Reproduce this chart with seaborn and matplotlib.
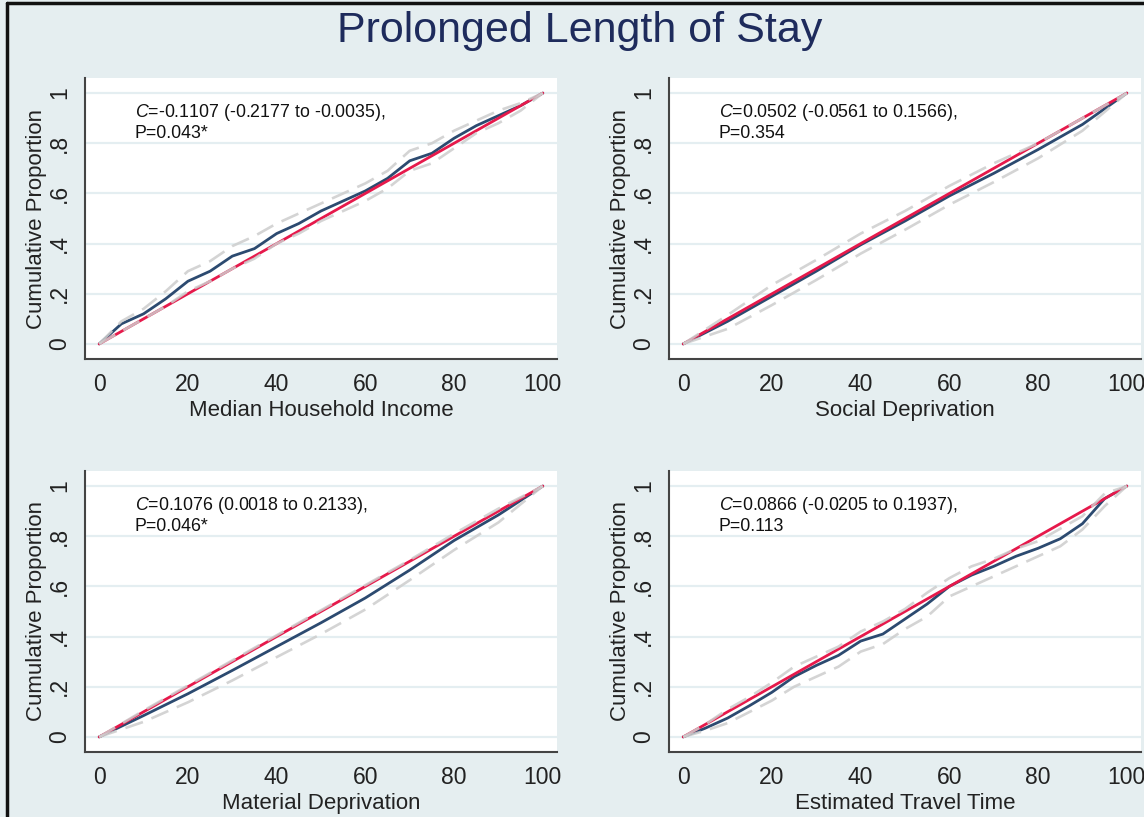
import pandas as pd
import matplotlib.pyplot as plt
import seaborn as sns
from matplotlib.lines import Line2D

# data
x5 = [0, 5, 10, 15, 20, 25, 30, 35, 40, 45, 50, 55, 60, 65, 70, 75, 80, 85, 90, 95, 100]
x10 = [0, 10, 20, 30, 40, 50, 60, 70, 80, 90, 100]

income_curve = [0, 0.08, 0.12, 0.18, 0.25, 0.29, 0.35, 0.38, 0.44, 0.48, 0.53, 0.57, 0.61, 0.66, 0.73, 0.76, 0.82, 0.87, 0.91, 0.95, 1]
income_upper = [0, 0.09, 0.14, 0.21, 0.29, 0.33, 0.39, 0.43, 0.48, 0.52, 0.56, 0.60, 0.64, 0.69, 0.77, 0.80, 0.85, 0.89, 0.93, 0.96, 1]
income_lower = [0, 0.05, 0.10, 0.15, 0.21, 0.25, 0.30, 0.34, 0.40, 0.44, 0.49, 0.53, 0.57, 0.62, 0.69, 0.72, 0.78, 0.84, 0.88, 0.93, 1]

social_curve = [0, 0.09, 0.19, 0.29, 0.395, 0.49, 0.59, 0.68, 0.775, 0.875, 1]
social_upper = [0, 0.115, 0.235, 0.335, 0.44, 0.53, 0.63, 0.72, 0.80, 0.90, 1]
social_lower = [0, 0.06, 0.155, 0.255, 0.36, 0.455, 0.555, 0.645, 0.74, 0.85, 1]

material_curve = [0, 0.085, 0.172, 0.265, 0.36, 0.455, 0.554, 0.665, 0.783, 0.885, 1]
material_upper = [0, 0.105, 0.205, 0.305, 0.405, 0.505, 0.605, 0.705, 0.81, 0.91, 1]
material_lower = [0, 0.06, 0.138, 0.225, 0.318, 0.41, 0.508, 0.625, 0.745, 0.855, 1]

travel_curve = [0, 0.035, 0.075, 0.125, 0.178, 0.24, 0.285, 0.325, 0.382, 0.41, 0.47, 0.53, 0.60, 0.645, 0.68, 0.72, 0.752, 0.79, 0.85, 0.95, 1]
travel_upper = [0, 0.05, 0.11, 0.16, 0.217, 0.28, 0.32, 0.36, 0.42, 0.46, 0.51, 0.575, 0.633, 0.68, 0.71, 0.75, 0.78, 0.83, 0.88, 0.97, 1]
travel_lower = [0, 0.025, 0.055, 0.10, 0.145, 0.20, 0.24, 0.28, 0.34, 0.37, 0.43, 0.48, 0.56, 0.60, 0.64, 0.68, 0.72, 0.76, 0.827, 0.92, 1]

xlabels = ['Median Household Income', 'Social Deprivation', 'Material Deprivation', 'Estimated Travel Time']
notes = ['$C$=-0.1107 (-0.2177 to -0.0035),\nP=0.043*',
         '$C$=0.0502 (-0.0561 to 0.1566),\nP=0.354',
         '$C$=0.1076 (0.0018 to 0.2133),\nP=0.046*',
         '$C$=0.0866 (-0.0205 to 0.1937),\nP=0.113']
panels = [(x5, income_curve, income_upper, income_lower),
          (x10, social_curve, social_upper, social_lower),
          (x10, material_curve, material_upper, material_lower),
          (x5, travel_curve, travel_upper, travel_lower)]
yticks = [0, 0.2, 0.4, 0.6, 0.8, 1]
yticklabels = ['0', '.2', '.4', '.6', '.8', '1']
xticks = [0, 20, 40, 60, 80, 100]

bg = '#E5EEF0'
navy = '#2C4A70'
red = '#E6194B'
gray = '#CDCDCD'

sns.set_style('white')
plt.rcParams['font.family'] = ['Liberation Sans', 'DejaVu Sans']
plt.rcParams['mathtext.fontset'] = 'custom'
plt.rcParams['mathtext.it'] = 'Liberation Sans:italic'
plt.rcParams['mathtext.rm'] = 'Liberation Sans'

fig = plt.figure(figsize=(11.44, 8.17), dpi=100, facecolor=bg)
positions = [[0.0743, 0.5606, 0.4126, 0.3439],
             [0.5848, 0.5606, 0.4126, 0.3439],
             [0.0743, 0.0796, 0.4126, 0.3439],
             [0.5848, 0.0796, 0.4126, 0.3439]]

for i, (xs, curve, upper, lower) in enumerate(panels):
    ax = fig.add_axes(positions[i])
    ax.set_facecolor('white')
    for t in yticks:
        ax.axhline(t, color='#E4EEF1', lw=1.6, zorder=0)
    sns.lineplot(x=xs, y=curve, ax=ax, color=navy, lw=2, zorder=3)
    sns.lineplot(x=[0, 100], y=[0, 1], ax=ax, color=red, lw=2, zorder=4)
    sns.lineplot(x=xs, y=upper, ax=ax, color=gray, lw=1.9, zorder=5, alpha=0.85,
                 linestyle=(0, (7, 3.5)))
    sns.lineplot(x=xs, y=lower, ax=ax, color=gray, lw=1.9, zorder=5, alpha=0.85,
                 linestyle=(0, (7, 3.5)))
    ax.set_xlim(-3.2, 103.2)
    ax.set_ylim(-0.06, 1.06)
    ax.set_xticks(xticks)
    ax.set_yticks(yticks)
    ax.set_yticklabels(yticklabels, rotation=90, va='center')
    ax.tick_params(axis='both', direction='out', length=6, width=1.2, color='#333333',
                   labelsize=16.5, labelcolor='#222222', pad=4)
    for s in ['top', 'right']:
        ax.spines[s].set_visible(False)
    for s in ['left', 'bottom']:
        ax.spines[s].set_color('#444444')
        ax.spines[s].set_linewidth(1.5)
    ax.set_xlabel(xlabels[i], fontsize=16, color='#222222', labelpad=3)
    ax.set_ylabel('Cumulative Proportion', fontsize=16, color='#222222', labelpad=1)
    ax.text(8, 0.965, notes[i], fontsize=12.8, color='#111111', va='top', ha='left',
            linespacing=1.2)

fig.text(0.507, 0.962, 'Prolonged Length of Stay', fontsize=31, color='#1E2B5C',
         ha='center', va='center')

# outer frame lines (top and left)
fig.add_artist(Line2D([0.006, 1], [0.9965, 0.9965], color='#111111', lw=2.5))
fig.add_artist(Line2D([0.006, 0.006], [0, 0.9965], color='#111111', lw=2.5))

plt.savefig('out.png', dpi=100, facecolor=bg)
